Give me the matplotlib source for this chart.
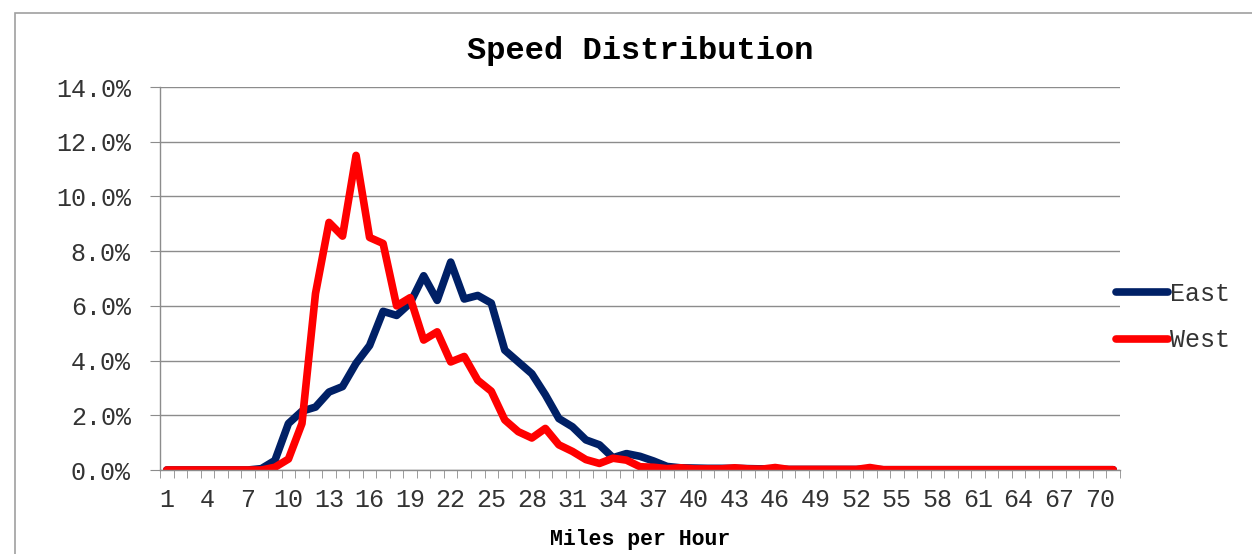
import matplotlib
matplotlib.use("Agg")
import matplotlib.pyplot as plt
from matplotlib.patches import Rectangle
from matplotlib.ticker import FuncFormatter, FixedLocator

# speed bins 1..71 mph, share of vehicles in percent
mph = list(range(1, 72))
east = [0, 0, 0, 0, 0, 0, 0, 0.05, 0.35, 1.7,
        2.15, 2.3, 2.85, 3.05, 3.9, 4.55, 5.8, 5.65, 6.1, 7.1,
        6.2, 7.6, 6.25, 6.38, 6.1, 4.38, 3.95, 3.52, 2.75, 1.88,
        1.58, 1.1, 0.92, 0.45, 0.6, 0.5, 0.33, 0.13, 0.08, 0.07,
        0.06, 0.06, 0.06, 0.05, 0.04, 0.04, 0.02, 0.02, 0.02, 0.02,
        0.02, 0.02, 0.03, 0.01, 0.01, 0.01, 0.01, 0.01, 0.01, 0.01,
        0.01, 0.01, 0.01, 0.01, 0.01, 0.01, 0.01, 0.01, 0.01, 0.01,
        0.01]
west = [0, 0, 0, 0, 0, 0, 0, 0, 0.1, 0.4,
        1.7, 6.45, 9.05, 8.55, 11.5, 8.5, 8.28, 6.0, 6.3, 4.75,
        5.05, 3.95, 4.15, 3.28, 2.88, 1.83, 1.4, 1.17, 1.52, 0.92,
        0.68, 0.38, 0.24, 0.43, 0.36, 0.12, 0.1, 0.05, 0.08, 0.04,
        0.04, 0.04, 0.08, 0.04, 0.03, 0.09, 0.02, 0.02, 0.02, 0.02,
        0.02, 0.02, 0.09, 0.01, 0.01, 0.01, 0.01, 0.01, 0.01, 0.01,
        0.01, 0.01, 0.01, 0.01, 0.01, 0.01, 0.01, 0.01, 0.01, 0.01,
        0.01]
y_ticks = [0, 2, 4, 6, 8, 10, 12, 14]
x_labels = mph[::3]

FONT = "Liberation Mono"
GRID = "#8c8c8c"

fig = plt.figure(figsize=(12.52, 5.54), dpi=100)
fig.patches.append(Rectangle((15 / 1252, -0.1), 1.2, 1 - 13 / 554 + 0.1,
                             transform=fig.transFigure, fill=False,
                             edgecolor="#a0a0a0", linewidth=1.2))

ax = fig.add_axes([160 / 1252, 84 / 554, 960 / 1252, 383 / 554])
ax.plot(mph, east, color="#002066", linewidth=5.5, solid_capstyle="round",
        solid_joinstyle="round", label="East")
ax.plot(mph, west, color="#ff0000", linewidth=5.5, solid_capstyle="round",
        solid_joinstyle="round", label="West")

ax.set_xlim(0.5, 71.5)
ax.set_ylim(0, 14)
ax.set_yticks(y_ticks)
ax.yaxis.set_major_formatter(FuncFormatter(lambda v, p: f"{v:.1f}%"))
ax.grid(axis="y", color=GRID, linewidth=1.0)
ax.set_axisbelow(True)

ax.set_xticks(x_labels)
ax.set_xticklabels([str(v) for v in x_labels])
ax.xaxis.set_minor_locator(FixedLocator([i + 0.5 for i in range(0, 72)]))
ax.tick_params(axis="x", which="major", length=0, pad=13)
ax.tick_params(axis="x", which="minor", length=6, color=GRID, direction="out")
ax.tick_params(axis="y", length=7, color=GRID, pad=14)

for s in ["top", "right"]:
    ax.spines[s].set_visible(False)
for s in ["left", "bottom"]:
    ax.spines[s].set_color(GRID)
    ax.spines[s].set_linewidth(1.0)

for lbl in ax.get_xticklabels() + ax.get_yticklabels():
    lbl.set_fontfamily(FONT)
    lbl.set_fontsize(18)
    lbl.set_color("#333333")

ax.set_title("Speed Distribution", fontfamily=FONT, fontweight="bold",
             fontsize=23, pad=20)
ax.set_xlabel("Miles per Hour", fontfamily=FONT, fontweight="bold",
              fontsize=15.5, labelpad=12)

leg = ax.legend(loc="center left", bbox_to_anchor=(1093 / 1252, 1 - 317 / 554),
                bbox_transform=fig.transFigure, frameon=False,
                handlelength=2.1, handletextpad=0.1, labelspacing=0.9,
                prop={"family": FONT, "size": 18})
for t in leg.get_texts():
    t.set_color("#333333")

fig.savefig("out.png", dpi=100)
